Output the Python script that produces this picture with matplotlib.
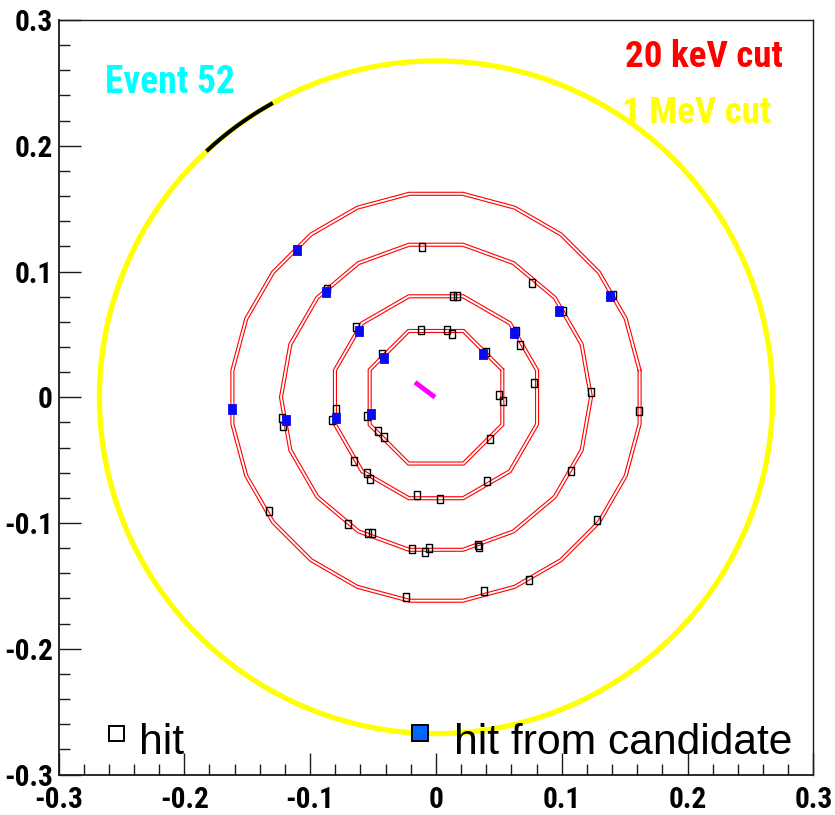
import os
import numpy as np
import matplotlib
matplotlib.use("Agg")
import matplotlib.pyplot as plt
from matplotlib import font_manager as fm
from matplotlib.font_manager import FontProperties
from matplotlib.lines import Line2D
from matplotlib.textpath import TextPath

# ---- detector geometry -------------------------------------------------
# drift-chamber layers drawn as regular polygons (double outline)
layer_sides = [8, 12, 18, 24]
layer_apothem = [0.0527, 0.0803, 0.1213, 0.1618]
layer_first_vertex_deg = [22.5, 15.0, 0.0, 7.5]
layer_half_gap = 0.0012

# 1 MeV boundary and the black arc on it
outer_radius = 0.2675
arc_deg = [119.0, 133.0]

# short track stub near the origin
stub_x = [-0.0167, -0.0008]
stub_y = [0.0119, 0.0000]

# ---- hits ----------------------------------------------------------------
hit_x = [-0.0429, -0.0119, 0.0085, 0.0130, 0.0397, 0.0503, 0.0535, 0.0429,
         -0.0411, -0.0461, -0.0551,
         -0.0636, 0.0138, 0.0165, 0.0634, 0.0668, 0.0781, 0.0405, 0.0032,
         -0.0151, -0.0525, -0.0548, -0.0652, -0.0795, -0.0827,
         -0.0869, -0.0109, 0.0761, 0.1007, 0.1230, 0.1073, 0.0331, 0.0342,
         -0.0056, -0.0087, -0.0193, -0.0506, -0.0543, -0.0697, -0.1227, -0.1214,
         0.1405, 0.1616, 0.1277, 0.0739, 0.0384, -0.0238, -0.1330]
hit_y = [0.0347, 0.0537, 0.0535, 0.0506, 0.0360, 0.0016, -0.0028, -0.0331,
         -0.0318, -0.0270, -0.0151,
         0.0559, 0.0805, 0.0805, 0.0527, 0.0419, 0.0117, -0.0665, -0.0807,
         -0.0779, -0.0648, -0.0602, -0.0509, -0.0090, -0.0183,
         0.0864, 0.1195, 0.0912, 0.0684, 0.0045, -0.0586, -0.1177, -0.1190,
         -0.1200, -0.1232, -0.1203, -0.1083, -0.1083, -0.1007, -0.0165, -0.0228,
         0.0811, -0.0109, -0.0978, -0.1455, -0.1542, -0.1590, -0.0901]

cand_x = [-0.1107, -0.0874, -0.0614, -0.0411, 0.1383, 0.0980, 0.0620, 0.0370,
          -0.1619, -0.1195, -0.0797, -0.0517]
cand_y = [0.1174, 0.0837, 0.0525, 0.0314, 0.0803, 0.0684, 0.0514, 0.0344,
          -0.0095, -0.0183, -0.0165, -0.0133]

tick_values = [-0.3, -0.2, -0.1, 0.0, 0.1, 0.2, 0.3]
tick_labels = ["-0.3", "-0.2", "-0.1", "0", "0.1", "0.2", "0.3"]


# ---- fonts ------------------------------------------------------------------
def _weight(e):
    w = e.weight
    if isinstance(w, str):
        w = fm.weight_dict.get(w, 400)
    return int(w)


def find_condensed_bold():
    """Path of an installed bold, narrow sans-serif face (or None)."""
    prefs = ["liberation sans narrow", "arial narrow", "nimbus sans narrow",
             "roboto condensed", "dejavu sans condensed", "noto sans",
             "open sans", "dejavu sans", "roboto"]
    best, best_key = None, None
    for e in fm.fontManager.ttflist:
        name = e.name.lower()
        base = os.path.basename(e.fname).lower()
        narrow = ("narrow" in name or "condensed" in name or "narrow" in base
                  or "condensed" in base or "cond" in str(e.stretch).lower())
        if not narrow or e.style != "normal":
            continue
        if "mono" in name or ("serif" in name and "sans" not in name):
            continue
        w = _weight(e)
        if w < 600 or w > 800:
            continue
        rank = next((i for i, p in enumerate(prefs) if name.startswith(p)), len(prefs))
        key = (rank, abs(w - 700), "semi" in base or "extra" in base)
        if best_key is None or key < best_key:
            best, best_key = e.fname, key
    return best


cond_path = find_condensed_bold()
if cond_path:
    BOLD = FontProperties(fname=cond_path)
else:
    BOLD = FontProperties(family=["Liberation Sans", "DejaVu Sans"], weight="bold")
REG = FontProperties(family=["Liberation Sans", "DejaVu Sans"], weight="normal")


def fitted(fp, text, ink_w_px, cap_px, w_weight=0.7):
    """Font size (pt) balancing the wanted ink width and capital height."""
    p = fp.copy()
    p.set_size(100)
    w = TextPath((0, 0), text, prop=p).get_extents().width
    h = TextPath((0, 0), "H", prop=p).get_extents().height
    s_w = 100 * ink_w_px * 0.72 / w
    s_h = 100 * cap_px * 0.72 / h
    q = fp.copy()
    q.set_size(float(s_w ** w_weight * s_h ** (1 - w_weight)))
    return q


tick_fp = fitted(BOLD, "0.3", 35, 21.5)
event_fp = fitted(BOLD, "Event 52", 125, 28.3, 0.85)
kev_fp = fitted(BOLD, "20 keV cut", 152, 30.5, 0.85)
mev_fp = fitted(BOLD, "1 MeV cut", 142, 30.0, 0.85)
leg_fp = fitted(REG, "hit from candidate", 335, 29.3, 0.5)

# ---- figure ----------------------------------------------------------------
fig = plt.figure(figsize=(8.35, 8.15), dpi=100, facecolor="white")
ax = fig.add_axes([0.07006, 0.04969, 0.90419, 0.92577])
ax.set_xlim(-0.3, 0.3)
ax.set_ylim(-0.3, 0.3)


def polygon(n, apothem, first_deg):
    circ = apothem / np.cos(np.pi / n)
    ang = np.deg2rad(first_deg + 360.0 / n * np.arange(n + 1))
    return circ * np.cos(ang), circ * np.sin(ang)


for n, a, f in zip(layer_sides, layer_apothem, layer_first_vertex_deg):
    for da in (-layer_half_gap, layer_half_gap):
        px, py = polygon(n, a + da, f)
        ax.plot(px, py, color="#ff0000", lw=0.8, zorder=2)

t = np.linspace(0, 2 * np.pi, 721)
ax.plot(outer_radius * np.cos(t), outer_radius * np.sin(t),
        color="#ffff00", lw=3.8, zorder=2, solid_capstyle="butt")
ta = np.deg2rad(np.linspace(arc_deg[0], arc_deg[1], 60))
ax.plot(outer_radius * np.cos(ta), outer_radius * np.sin(ta),
        color="black", lw=2.9, zorder=3, solid_capstyle="butt")

ax.plot(stub_x, stub_y, color="#ff00ff", lw=3.5, zorder=3, solid_capstyle="butt")

rect = [(-0.36, -0.5), (0.36, -0.5), (0.36, 0.5), (-0.36, 0.5), (-0.36, -0.5)]
ax.plot(hit_x, hit_y, ls="none", marker=rect, ms=5.8, mfc="none",
        mec="black", mew=1.0, zorder=4)
ax.plot(cand_x, cand_y, ls="none", marker=rect, ms=7.6, mfc="#0808f5",
        mec="#0808f5", mew=0.6, zorder=5)

# ---- axes styling -------------------------------------------------------
ax.set_xticks(tick_values)
ax.set_xticklabels(tick_labels)
ax.set_yticks(tick_values)
ax.set_yticklabels(tick_labels)
ax.set_xticks(np.arange(-0.3, 0.3001, 0.02), minor=True)
ax.set_yticks(np.arange(-0.3, 0.3001, 0.02), minor=True)
ax.tick_params(which="both", direction="in", top=False, right=False,
               width=1.0, color="#1a1a1a")
ax.tick_params(which="major", length=15.8)
ax.tick_params(which="minor", length=7.9)
ax.tick_params(axis="x", which="major", pad=8.0)
ax.tick_params(axis="y", which="major", pad=4.2)
for lab in ax.get_xticklabels() + ax.get_yticklabels():
    lab.set_fontproperties(tick_fp)
for side, sp in ax.spines.items():
    sp.set_color("#1a1a1a")
    sp.set_linewidth(1.3 if side in ("left", "bottom") else 1.0)

# ---- annotations --------------------------------------------------------
ax.text(0.0620, 0.9029, "Event 52", transform=ax.transAxes, color="#00ffff",
        fontproperties=event_fp, va="baseline", ha="left", zorder=6)
ax.text(0.7500, 0.9380, "20 keV cut", transform=ax.transAxes, color="#ff0000",
        fontproperties=kev_fp, va="baseline", ha="left", zorder=6)
ax.text(0.7464, 0.8630, "1 MeV cut", transform=ax.transAxes, color="#ffff00",
        fontproperties=mev_fp, va="baseline", ha="left", zorder=6)

hit_handle = Line2D([], [], ls="none", marker="s", ms=10.8, mfc="white",
                    mec="black", mew=1.4)
cand_handle = Line2D([], [], ls="none", marker="s", ms=11.0, mfc="#0066ff",
                     mec="black", mew=1.4)
leg_common = dict(frameon=False, borderpad=0, borderaxespad=0, handlelength=0.6,
                  handleheight=1.63, prop=leg_fp, loc="lower left")
leg1 = ax.legend([hit_handle], ["hit"], bbox_to_anchor=(0.0589, 0.0094),
                 handletextpad=0.25, **leg_common)
ax.add_artist(leg1)
ax.legend([cand_handle], ["hit from candidate"], bbox_to_anchor=(0.4616, 0.0094),
          handletextpad=0.49, **leg_common)

fig.savefig("out.png", dpi=100, facecolor="white")
